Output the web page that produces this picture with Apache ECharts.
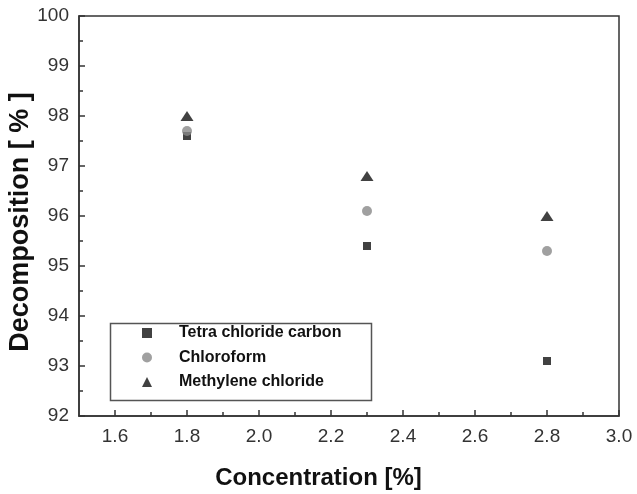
<!DOCTYPE html>
<html>
<head>
<meta charset="utf-8">
<script src="https://cdn.jsdelivr.net/npm/echarts@6/dist/echarts.min.js"></script>
<style>html,body{margin:0;padding:0;background:#fff}#c{width:637px;height:494px}</style>
</head>
<body>
<div id="c"></div>
<script>
var concentration = [1.8, 2.3, 2.8];
var tetraChlorideCarbon = [97.6, 95.4, 93.1];
var chloroform = [97.7, 96.1, 95.3];
var methyleneChloride = [98.0, 96.8, 96.0];
var seriesNames = ['Tetra chloride carbon', 'Chloroform', 'Methylene chloride'];
var xTitle = 'Concentration [%]';
var yTitle = 'Decomposition [ % ]';

function pairs(ys) { return concentration.map(function (x, i) { return [x, ys[i]]; }); }

var axisColor = '#333';
var chart = echarts.init(document.getElementById('c'), null, {renderer: 'canvas'});
chart.setOption({
  animation: false,
  backgroundColor: '#fff',
  grid: [
    {left: 79, right: 18, top: 16, bottom: 78, show: true, borderColor: axisColor, borderWidth: 1.5, backgroundColor: 'transparent'},
    {left: 115, right: 18, top: 16, bottom: 78}
  ],
  xAxis: [
    {gridIndex: 0, type: 'value', min: 1.5, max: 3.0, interval: 0.1,
     axisLine: {show: true, lineStyle: {color: axisColor, width: 1.5}},
     axisTick: {show: false}, axisLabel: {show: false}, splitLine: {show: false}},
    {gridIndex: 1, type: 'value', min: 1.6, max: 3.0, interval: 0.2,
     axisLine: {show: false},
     axisTick: {show: true, inside: true, length: 6, lineStyle: {color: axisColor, width: 1.5}},
     minorTick: {show: true, splitNumber: 2, length: 4, lineStyle: {color: axisColor, width: 1.5}},
     axisLabel: {show: true, margin: 11, fontSize: 19, color: '#333', fontFamily: 'Liberation Sans',
       formatter: function (v) { return v.toFixed(1); }},
     splitLine: {show: false}}
  ],
  yAxis: [
    {gridIndex: 0, type: 'value', min: 92, max: 100, interval: 1,
     axisLine: {show: true, lineStyle: {color: axisColor, width: 1.5}},
     axisTick: {show: true, inside: true, length: 6, lineStyle: {color: axisColor, width: 1.5}},
     minorTick: {show: true, splitNumber: 2, length: 4, lineStyle: {color: axisColor, width: 1.5}},
     axisLabel: {show: true, margin: 10, fontSize: 19, color: '#333', fontFamily: 'Liberation Sans'},
     splitLine: {show: false}},
    {gridIndex: 1, type: 'value', min: 92, max: 100, show: false, splitLine: {show: false}}
  ],
  legend: {
    orient: 'vertical', left: 142, top: 325, padding: 0,
    itemWidth: 10, itemHeight: 10, itemGap: 8.5,
    formatter: function (n) { return '{g|}' + n; },
    textStyle: {fontSize: 16, fontWeight: 'bold', color: '#111', fontFamily: 'Liberation Sans', lineHeight: 16,
      rich: {g: {width: 22}}},
    data: seriesNames
  },
  graphic: [
    {type: 'rect', left: 108, top: 321, shape: {width: 261, height: 77}, z: 0,
     style: {fill: 'none', stroke: '#555', lineWidth: 1.5}},
    {type: 'text', left: 'center', top: 466, style: {text: xTitle, font: 'bold 24px "Liberation Sans"', fill: '#111'},
     x: -21},
    {type: 'text', x: 21, y: 222, rotation: Math.PI / 2, style: {text: yTitle, font: 'bold 27px "Liberation Sans"', fill: '#111', align: 'center', verticalAlign: 'middle'}}
  ],
  series: [
    {name: seriesNames[0], type: 'scatter', xAxisIndex: 1, yAxisIndex: 1, symbol: 'rect', symbolSize: 8,
     itemStyle: {color: '#111'}, data: pairs(tetraChlorideCarbon)},
    {name: seriesNames[1], type: 'scatter', xAxisIndex: 1, yAxisIndex: 1, symbol: 'circle', symbolSize: 10,
     itemStyle: {color: '#888'}, data: pairs(chloroform)},
    {name: seriesNames[2], type: 'scatter', xAxisIndex: 1, yAxisIndex: 1, symbol: 'triangle', symbolSize: [13, 10],
     itemStyle: {color: '#111'}, data: pairs(methyleneChloride)}
  ]
});
</script>
</body>
</html>
